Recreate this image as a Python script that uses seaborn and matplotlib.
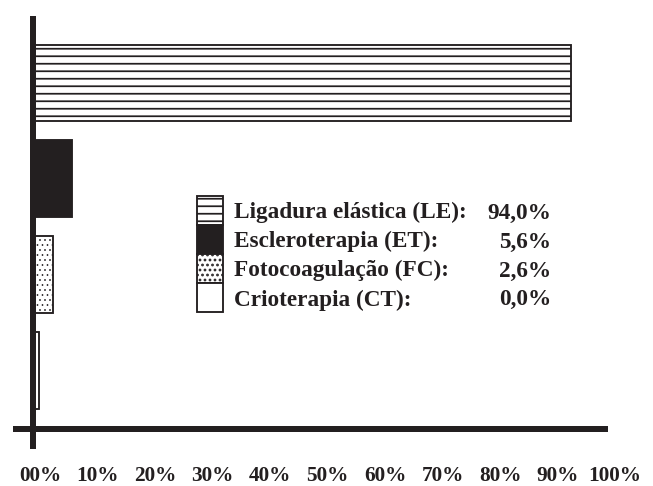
import matplotlib
matplotlib.use("Agg")
import matplotlib.pyplot as plt
import matplotlib.transforms as mtransforms
import seaborn as sns
import pandas as pd

categories = ["Ligadura elástica (LE)", "Escleroterapia (ET)",
              "Fotocoagulação (FC)", "Crioterapia (CT)"]
bar_values = [93.6, 6.7, 3.4, 1.0]          # bar lengths as drawn in the picture
legend_values = ["94,0%", "5,6%", "2,6%", "0,0%"]
tick_values = [0, 10, 20, 30, 40, 50, 60, 70, 80, 90, 100]
tick_labels = ["00%", "10%", "20%", "30%", "40%", "50%",
               "60%", "70%", "80%", "90%", "100%"]
hatches = ["--", "", "...", ""]
ink = "#231f20"
fills = ["white", ink, "white", "white"]

sns.set_style("white")
plt.rcParams["font.family"] = ["Liberation Serif", "DejaVu Serif"]
plt.rcParams["font.weight"] = "bold"
plt.rcParams["hatch.linewidth"] = 1.4
plt.rcParams["hatch.color"] = ink

DPI = 90
W, H = 653, 486
fig = plt.figure(figsize=(W / DPI, H / DPI), dpi=DPI)
ax = fig.add_axes([33 / W, 57 / H, 575 / W, 413 / H])

df = pd.DataFrame({"Tratamento": categories, "Percentual": bar_values})
sns.barplot(data=df, x="Percentual", y="Tratamento", hue="Tratamento",
            palette=fills, orient="h", width=0.8, saturation=1,
            edgecolor=ink, linewidth=1.5, legend=False, ax=ax)

for p, h in zip(ax.patches, hatches):
    p.set_hatch(h)
    if h == "..." and hasattr(p, "set_hatch_linewidth"):
        p.set_hatch_linewidth(0.6)

ax.set_xlim(0, 100)
ax.set_ylim(3.612, -0.699)
for s in ax.spines.values():
    s.set_visible(False)

# axis lines (thick), vertical one runs a bit below the horizontal one
ax.plot([0, 0], [-0.699, 3.82], color=ink, lw=4.8, solid_capstyle="butt",
        clip_on=False, zorder=5)
ax.plot([-3.48, 100], [3.612, 3.612], color=ink, lw=4.8,
        solid_capstyle="butt", clip_on=False, zorder=5)

ax.set_yticks([])
ax.set_ylabel("")
ax.set_xlabel("")
ax.set_xticks(tick_values)
ax.set_xticklabels(tick_labels)
ax.tick_params(axis="x", direction="inout", length=29.6, width=0.8,
               color=ink, pad=15.0, labelsize=17, labelcolor=ink)
shift = mtransforms.ScaledTranslation(7 / DPI, 0, fig.dpi_scale_trans)
for lab in ax.get_xticklabels():
    lab.set_transform(lab.get_transform() + shift)

fs = 18.6
ax.legend(handles=list(ax.patches), labels=[c + ":" for c in categories],
          loc="upper left", bbox_to_anchor=(197 / W, 1 - 196 / H),
          bbox_transform=fig.transFigure, frameon=False, borderpad=0,
          borderaxespad=0, labelspacing=0, handlelength=26 / 23,
          handleheight=1.55, handletextpad=11 / 23, fontsize=fs,
          labelcolor=ink)

for val, base in zip(legend_values, [219, 248, 277, 305]):
    fig.text(551 / W, 1 - base / H, val, ha="right", va="baseline",
             fontsize=fs, fontweight="bold", color=ink)

fig.savefig("out.png", dpi=DPI)
